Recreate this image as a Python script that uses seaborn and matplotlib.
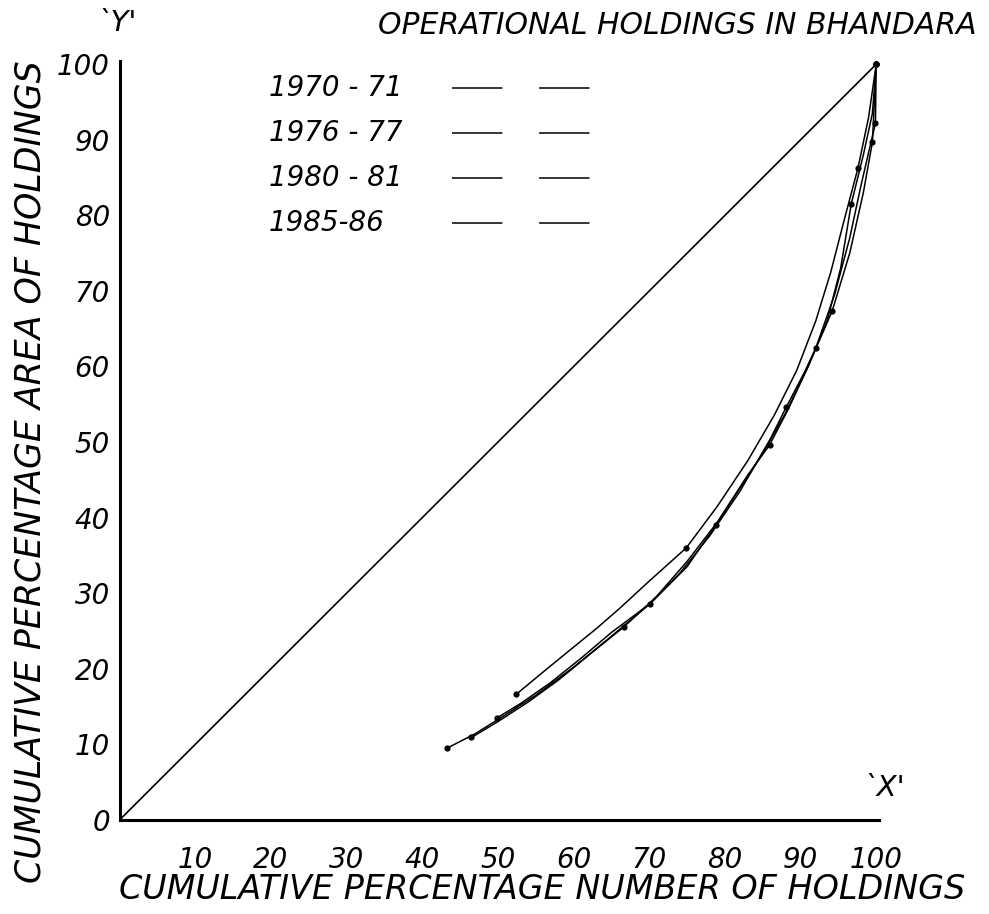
import numpy as np
import pandas as pd
import matplotlib
matplotlib.use("Agg")
import matplotlib.pyplot as plt
from matplotlib.lines import Line2D
import seaborn as sns

# Lorenz curves of operational holdings, Bhandara district
years = ['1970 - 71', '1976 - 77', '1980 - 81', '1985-86']

x_1970 = [46.5, 50, 54, 58, 62, 66.6, 71, 75, 79, 83, 85.9, 88.5, 91, 94.2, 96.5, 98.3, 99.5, 100]
y_1970 = [10.9, 13.0, 15.6, 18.5, 21.8, 25.5, 29.6, 34.2, 39.4, 45.6, 49.6, 54.6, 60.0, 67.4, 75.0, 83.0, 89.7, 100]
dots_1970 = [0, 5, 10, 13, 16, 17]

x_1976 = [49.9, 53, 57, 61, 65, 70.1, 74, 78, 82, 86, 88.1, 90.5, 92, 94.5, 96.5, 98, 99.9, 100]
y_1976 = [13.5, 15.4, 18.2, 21.4, 24.8, 28.6, 32.6, 37.6, 43.5, 50.4, 54.6, 59.2, 62.4, 69.5, 77.0, 84.0, 92.2, 100]
dots_1976 = [0, 5, 10, 12, 16, 17]

x_1980 = [52.4, 56.5, 59.8, 63, 66.1, 70, 74.9, 79, 83, 86.5, 89.5, 92, 94, 95.8, 97.6, 99, 100]
y_1980 = [16.6, 20.0, 22.7, 25.3, 28.0, 31.6, 36.0, 41.5, 47.5, 53.5, 59.5, 66.0, 72.5, 79.5, 86.3, 93.0, 100]
dots_1980 = [0, 6, 14, 16]

x_1985 = [43.3, 47, 51, 55, 60, 65, 70, 75, 78.8, 85, 88, 91, 93.5, 95.3, 96.7, 98.3, 99.5, 100]
y_1985 = [9.5, 11.4, 13.9, 16.5, 20.2, 24.3, 28.5, 33.5, 39.0, 48.5, 53.8, 60.0, 66.0, 73.0, 81.5, 88.0, 93.5, 100]
dots_1985 = [0, 8, 14, 17]

equality = [0, 100]

xticks = [10, 20, 30, 40, 50, 60, 70, 80, 90, 100]
yticks = [0, 10, 20, 30, 40, 50, 60, 70, 80, 90, 100]

series = {
    years[0]: (x_1970, y_1970, dots_1970),
    years[1]: (x_1976, y_1976, dots_1976),
    years[2]: (x_1980, y_1980, dots_1980),
    years[3]: (x_1985, y_1985, dots_1985),
}

sns.set_style('white')
plt.rcParams['font.family'] = ['DejaVu Sans']
plt.rcParams['text.color'] = 'black'
plt.rcParams['xtick.color'] = 'black'
plt.rcParams['ytick.color'] = 'black'
plt.rcParams['axes.labelcolor'] = 'black'

fig = plt.figure(figsize=(9.89, 9.14), dpi=100)
ax = fig.add_axes([0.121, 0.103, 0.768, 0.830])

for yr, (xs, ys, dots) in series.items():
    df = pd.DataFrame({'x': xs, 'y': ys})
    sns.lineplot(data=df, x='x', y='y', sort=False, color='black', lw=1.1,
                 marker='o', markersize=4.5, markeredgewidth=0, markevery=dots, ax=ax)

ax.plot(equality, equality, color='black', lw=1.2)

ax.set_xlim(0, 100.4)
ax.set_ylim(0, 100.4)
ax.set_xticks(xticks)
ax.set_yticks(yticks)
ax.set_xticklabels([str(t) for t in xticks], fontsize=20, style='italic')
ax.set_yticklabels([str(t) for t in yticks], fontsize=20, style='italic')
ax.tick_params(axis='both', direction='out', length=5, width=2, color='black')
ax.tick_params(axis='y', pad=2)
ax.tick_params(axis='x', pad=14)
ax.set_xlabel('')
ax.set_ylabel('')

for s in ['top', 'right']:
    ax.spines[s].set_visible(False)
for s in ['left', 'bottom']:
    ax.spines[s].set_linewidth(2.2)
    ax.spines[s].set_color('black')

fig.text(0.548, 0.027, 'CUMULATIVE PERCENTAGE NUMBER OF HOLDINGS', ha='center', va='center',
         fontsize=24, style='italic')
fig.text(0.031, 0.484, 'CUMULATIVE PERCENTAGE AREA OF HOLDINGS', ha='center', va='center',
         rotation=90, fontsize=25, style='italic')

fig.text(0.987, 0.972, 'OPERATIONAL HOLDINGS IN BHANDARA', ha='right', va='center',
         fontsize=21.5, style='italic')
fig.text(0.118, 0.975, "`Y'", ha='center', va='center', fontsize=21, style='italic')
ax.text(101, 2.3, "`X'", ha='center', va='bottom', fontsize=21, style='italic')

# hand-lettered key, labels left-aligned with dashed samples to the right
for i, yr in enumerate(years):
    yrow = 0.904 - i * 0.0495
    fig.text(0.272, yrow, yr, ha='left', va='center', fontsize=20, style='italic')
    fig.add_artist(Line2D([0.457, 0.606], [yrow, yrow], transform=fig.transFigure,
                          color='black', lw=1.1, linestyle=(0, (33, 24))))

fig.savefig('out.png', dpi=100, facecolor='white')
